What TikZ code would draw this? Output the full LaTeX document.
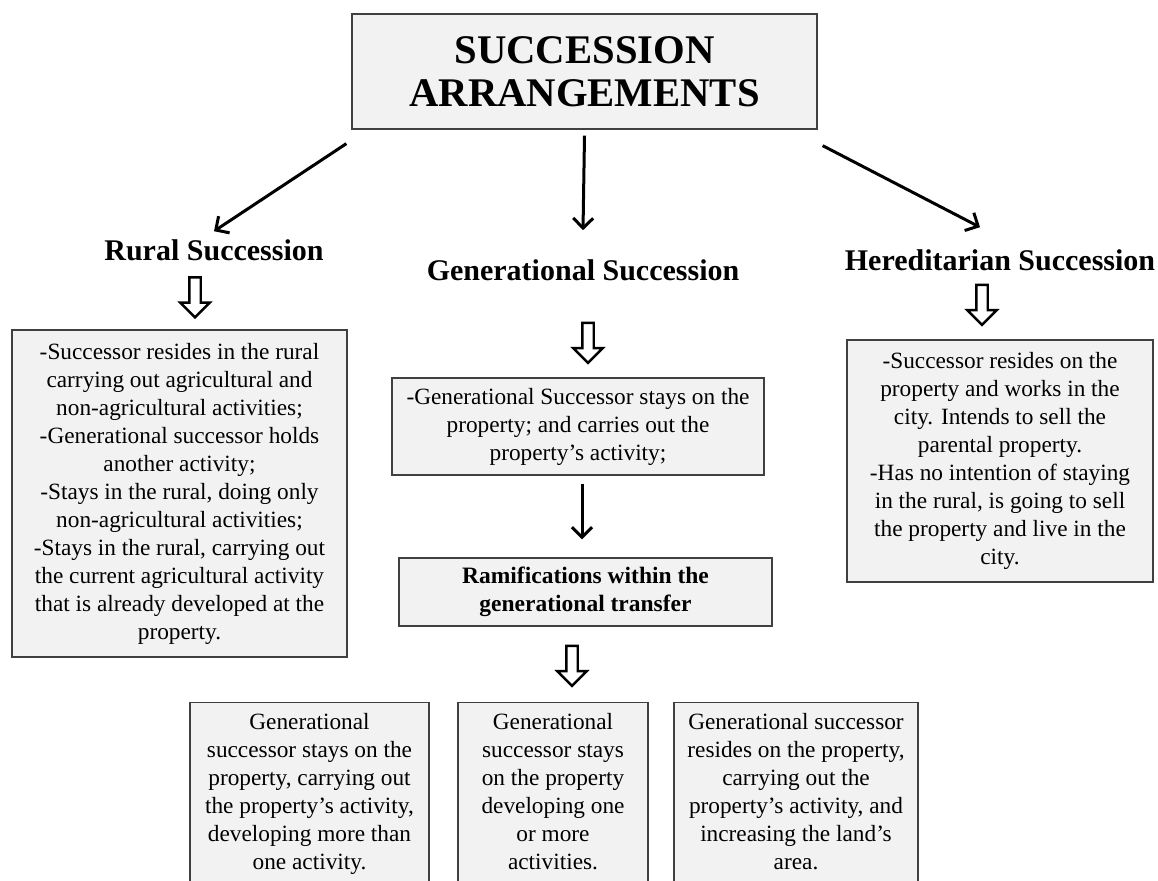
\documentclass[tikz,border=0pt]{standalone}
\usepackage{fontspec}
\setmainfont{Liberation Serif}
\usetikzlibrary{arrows.meta,shapes.arrows}

\definecolor{boxfill}{HTML}{F2F2F2}
\definecolor{boxline}{HTML}{404040}

\tikzset{
box/.style={draw=boxline, fill=boxfill, line width=1.3pt, align=center, inner sep=0pt, font=\fontsize{23.3}{28}\selectfont},
heading/.style={inner sep=0pt, font=\bfseries\fontsize{30}{36}\selectfont},
arr/.style={-{Straight Barb[length=10pt,width=20pt]}, line width=3pt},
hollow/.style={single arrow, draw, line width=2.4pt, shape border rotate=270, minimum height=40pt, minimum width=27pt, single arrow head extend=9pt, inner sep=4.5pt}
}

\begin{document}
\begin{tikzpicture}[x=1pt,y=-1pt]
\useasboundingbox (0,0) rectangle (1158,880);

\node[box, minimum width=465pt, minimum height=115pt, font=\bfseries\fontsize{40.7}{43}\selectfont] (title) at (584.5,71.5) {SUCCESSION\\ARRANGEMENTS};

\node[heading] (rural) at (214,250) {Rural Succession};
\node[heading] (gen) at (583,270) {Generational Succession};
\node[heading] (hered) at (1000,260) {Hereditarian Succession};

\draw[arr] ([xshift=-5pt,yshift=-14pt]title.south west) -- ([yshift=8pt]rural.north);
\draw[arr] ([yshift=-6pt]title.south) -- ([yshift=29pt]gen.north);
\draw[arr] ([xshift=5pt,yshift=-16pt]title.south east) -- ([xshift=-20pt,yshift=22pt]hered.north);

\node[hollow] (rdown) at (195,294.5) {};
\node[hollow] (gdown) at (588,340) {};
\node[hollow] (hdown) at (982,302) {};

\node[box, minimum width=335pt, minimum height=327pt] (ruralbox) at (179.5,493.5) {-Successor resides in the rural\\carrying out agricultural and\\non-agricultural activities;\\-Generational successor holds\\another activity;\\-Stays in the rural, doing only\\non-agricultural activities;\\-Stays in the rural, carrying out\\the current agricultural activity\\that is already developed at the\\property.};

\node[box, minimum width=372pt, minimum height=97pt] (genbox) at (578,426.5) {-Generational Successor stays on the\\property; and carries out the\\property's activity;};

\node[box, minimum width=306pt, minimum height=242pt] (heredbox) at (1000,461) {-Successor resides on the\\property and works in the\\city. Intends to sell the\\parental property.\\-Has no intention of staying\\in the rural, is going to sell\\the property and live in the\\city.};

\node[box, minimum width=373pt, minimum height=68pt, font=\bfseries\fontsize{23.5}{28}\selectfont] (ramif) at (585.5,592) {Ramifications within the\\generational transfer};
\draw[arr, shorten <=8pt, shorten >=18pt] ([xshift=4pt]genbox.south) -- ([xshift=4pt]genbox.south |- ramif.north);

\node[hollow] (mdown) at (572,663) {};

\node[box, anchor=north, minimum width=239pt, minimum height=183pt] (opt1) at (309.5,702) {\strut Generational\\successor stays on the\\property, carrying out\\the property's activity,\\developing more than\\one activity.\strut};
\node[box, anchor=north, minimum width=190pt, minimum height=183pt] (opt2) at (553,702) {\strut Generational\\successor stays\\on the property\\developing one\\or more\\activities.\strut};
\node[box, anchor=north, minimum width=244pt, minimum height=183pt] (opt3) at (796,702) {\strut Generational successor\\resides on the property,\\carrying out the\\property's activity, and\\increasing the land's\\area.\strut};
\end{tikzpicture}
\end{document}
